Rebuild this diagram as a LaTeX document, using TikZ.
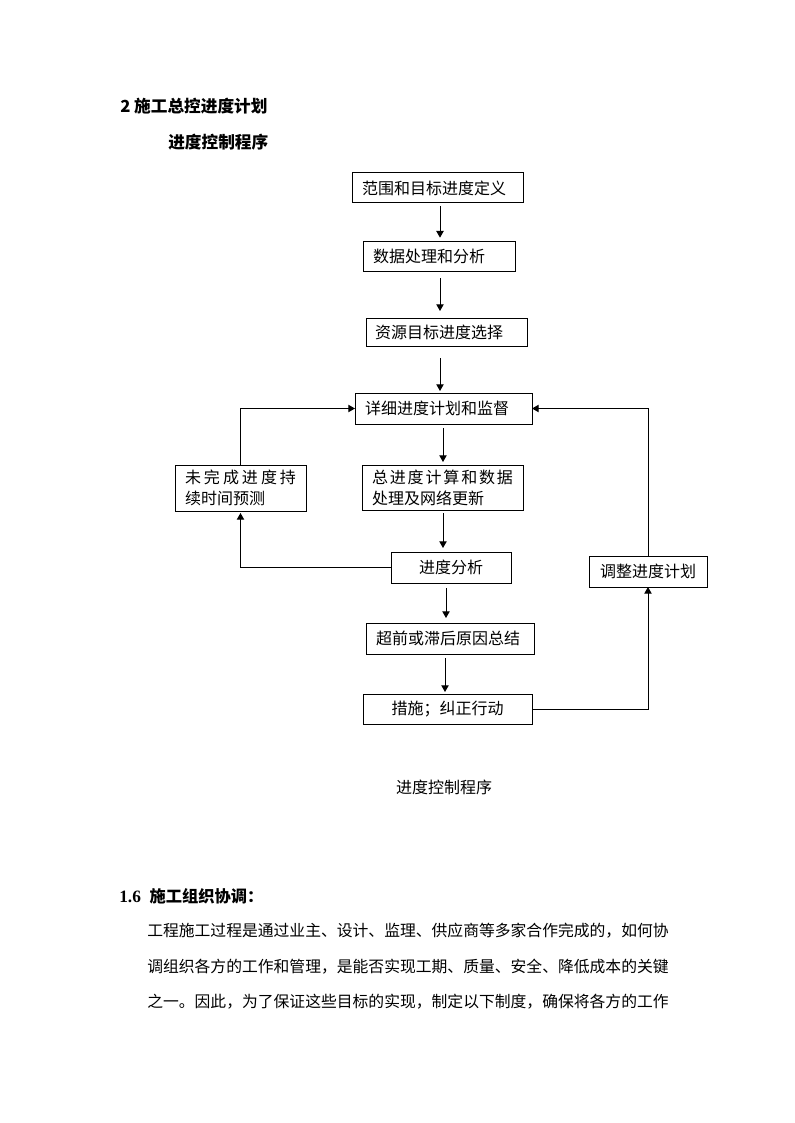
\documentclass[tikz,border=0pt]{standalone}
\usepackage{fontspec}
\newfontfamily\cjk{Noto Sans CJK SC}
\newfontfamily\tnr{Liberation Serif}
\usetikzlibrary{arrows.meta}
\begin{document}
\begin{tikzpicture}[x=0.75pt,y=-0.75pt,
  font=\cjk\fontsize{12pt}{15.75pt}\selectfont,
  box/.style={draw,line width=0.75pt,inner ysep=0pt,outer sep=0pt},
  lbox/.style={box,align=left,inner xsep=7.5pt},
  arr/.style={line width=0.75pt,-{Triangle[length=5pt,width=5.5pt]}},
  txt/.style={inner sep=0pt,anchor=west},
  bold/.style={font=\cjk\bfseries\fontsize{12.5pt}{15pt}\selectfont},
  body/.style={txt,font=\cjk\fontsize{11.85pt}{15pt}\selectfont}]
\path[use as bounding box,fill=white] (0,0) rectangle (794,1123);

% headings
\node[txt,bold] (h1) at (120,106) {2 施工总控进度计划};
\node[txt,bold] (h2) at (168,142) {进度控制程序};

% boxes
\node[lbox,text width=113.25pt,minimum height=22.5pt] (b1) at (437.5,188) {范围和目标进度定义};
\node[lbox,text width=99pt,minimum height=22.5pt] (b2) at (439,256) {数据处理和分析};
\node[lbox,inner xsep=6.75pt,text width=107.25pt,minimum height=21pt] (b3) at (446.5,332) {资源目标进度选择};
\node[lbox,text width=117.75pt,minimum height=23.25pt] (b4) at (443.5,408.5) {详细进度计划和监督};
\node[lbox,text width=105.75pt,minimum height=33.75pt] (b5) at (442.5,487.5)
  {\hbox to 105.75pt{总\hfil 进\hfil 度\hfil 计\hfil 算\hfil 和\hfil 数\hfil 据}\\处理及网络更新};
\node[box,minimum width=90pt,minimum height=23.25pt] (b6) at (451,567.5) {进度分析};
\node[lbox,text width=83.25pt,minimum height=34.5pt] (b7) at (240.5,488)
  {\hbox to 83.25pt{未\hfil 完\hfil 成\hfil 进\hfil 度\hfil 持}\\续时间预测};
\node[box,minimum width=88.5pt,minimum height=23.25pt] (b8) at (648,571.5) {调整进度计划};
\node[lbox,text width=111pt,minimum height=23.25pt] (b9) at (450,638.5) {超前或滞后原因总结};
\node[box,minimum width=126.75pt,minimum height=22.5pt] (b10) at (447.5,709) {措施；纠正行动};

% arrow columns
\coordinate (c1) at (440,0);
\coordinate (c2) at (443,0);
\coordinate (c3) at (446,0);
\coordinate (c4) at (445,0);

\draw[arr,shorten <=2.25pt,shorten >=2.5pt] (b1.south -| c1) -- (b2.north -| c1);
\draw[arr,shorten <=5.25pt,shorten >=5.25pt] (b2.south -| c1) -- (b3.north -| c1);
\draw[arr,shorten <=9pt,shorten >=1.5pt] (b3.south -| c1) -- (b4.north -| c1);
\draw[arr,shorten <=3pt,shorten >=2.25pt] (b4.south -| c2) -- (b5.north -| c2);
\draw[arr,shorten <=2.25pt,shorten >=3pt] (b5.south -| c2) -- (b6.north -| c2);
\draw[arr,shorten <=3.75pt,shorten >=3.75pt] (b6.south -| c3) -- (b9.north -| c3);
\draw[arr,shorten <=3pt,shorten >=1.5pt] (b9.south -| c4) -- (b10.north -| c4);

% loops
\draw[arr,shorten >=1.5pt] (b6.west) -| (b7.south);
\draw[arr] (b7.north) |- (b4.west);
\draw[arr] (b10.east) -| (b8.south);
\draw[arr] (b8.north) |- (b4.east);

% caption
\node[inner sep=0pt] (cap) at (444,787) {进度控制程序};

% section
\node[txt,font=\cjk\bfseries\fontsize{12.2pt}{15pt}\selectfont] (h3) at (119,896)
  {{\tnr\bfseries\fontsize{13pt}{15pt}\selectfont 1.6}\hspace{6.5pt}施工组织协调：};
\node[body] (l1) at (147,931) {工程施工过程是通过业主、设计、监理、供应商等多家合作完成的，如何协};
\node[body] (l2) at (147,967) {调组织各方的工作和管理，是能否实现工期、质量、安全、降低成本的关键};
\node[body] (l3) at (147,1002) {之一。因此，为了保证这些目标的实现，制定以下制度，确保将各方的工作};
\end{tikzpicture}
\end{document}
